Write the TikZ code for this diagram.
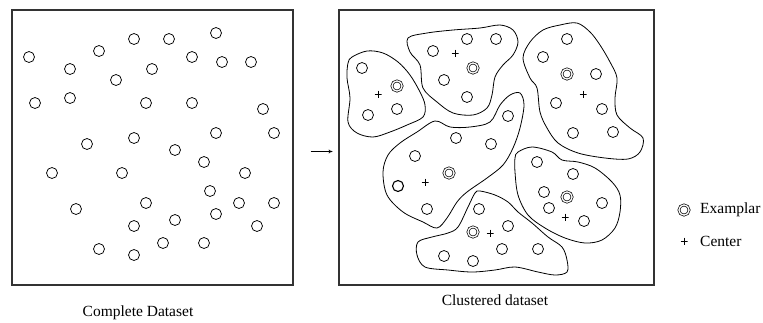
\documentclass[tikz,border=0pt]{standalone}
\usepackage{fontspec}
\setmainfont{Liberation Serif}
\usetikzlibrary{arrows.meta}
\begin{document}
\begin{tikzpicture}[x=1pt,y=-1pt,
  frame/.style={draw=black!80, line width=1.1pt, inner sep=0pt},
  pt/.style={circle, draw, line width=0.75pt, minimum size=11pt, inner sep=0pt},
  boldpt/.style={pt, line width=1.1pt},
  exemplar/.style={circle, draw, line width=0.7pt, double, double distance=1.3pt, minimum size=10.2pt, inner sep=0pt},
  center/.style={inner sep=0pt, minimum size=7pt, path picture={
    \draw[line width=0.8pt] (path picture bounding box.north) -- (path picture bounding box.south)
      (path picture bounding box.west) -- (path picture bounding box.east);}},
  blob/.style={line width=0.8pt},
  lbl/.style={font=\fontsize{15.5}{18}\selectfont, inner sep=0pt}]
\useasboundingbox (0,0) rectangle (763,322);
% frames
\node[frame, minimum width=281pt, minimum height=275pt] (left) at (152.5,147.5) {};
\node[frame, minimum width=315pt, minimum height=275pt] (right) at (496.5,147.5) {};
\draw[line width=0.7pt, -{To[length=4pt,width=4pt]}] ([xshift=17pt,yshift=-4pt]left.east) -- ([xshift=-6pt,yshift=-4pt]right.west);
% left points
\foreach \x/\y [count=\i] in {29/57,70/69,99/51,134/39,169/39,216/33,192/57,222/62,251/62,152/69,116/80,35/103,70/98,146/103,192/103,263/109,216/133,274/133,87/144,134/138,175/150,204/162,52/173,122/173,245/173,210/191,146/203,239/203,274/203,76/209,216/214,175/220,134/226,257/226,99/249,163/243,204/243,134/255}
  \node[pt] (p\i) at (\x,\y) {};
% cluster outlines
\draw[blob] plot[smooth cycle, tension=0.55] coordinates {(352,57) (367,51) (383,53) (398,62) (410,75) (420,92) (425,105) (423,117) (407,125) (390,132) (373,137) (357,133) (348,122) (350,98) (347,78) (348,63)};
\draw[blob] plot[smooth cycle, tension=0.55] coordinates {(408,38) (427,33) (453,30) (480,28) (500,25) (513,30) (518,42) (513,55) (503,65) (495,77) (492,95) (487,108) (473,115) (453,113) (437,102) (423,88) (420,65) (410,52)};
\draw[blob] plot[smooth cycle, tension=0.55] coordinates {(560,25) (577,23) (590,32) (600,45) (610,62) (617,78) (615,98) (617,115) (630,128) (643,138) (640,152) (628,159) (605,158) (578,153) (558,143) (547,128) (540,112) (537,88) (530,78) (523,58) (530,42) (543,30)};
\draw[blob] plot[smooth cycle, tension=0.55] coordinates {(400,143) (417,132) (435,121) (450,127) (470,127) (490,122) (500,105) (510,95) (520,93) (524,105) (520,128) (513,148) (503,165) (487,178) (467,192) (457,202) (447,218) (437,228) (423,222) (403,212) (387,195) (383,172) (388,155)};
\draw[blob] plot[smooth cycle, tension=0.55] coordinates {(518,152) (532,147) (552,152) (562,160) (578,162) (595,168) (612,182) (620,195) (620,212) (615,228) (602,240) (585,243) (565,238) (545,228) (528,215) (518,195) (515,172) (515,158)};
\draw[blob] plot[smooth cycle, tension=0.55] coordinates {(480,191) (495,195) (508,202) (518,212) (532,223) (548,237) (562,247) (567,260) (567,272) (555,275) (538,272) (515,267) (495,270) (472,272) (448,270) (425,267) (417,255) (418,242) (432,237) (448,233) (458,227) (468,207) (475,193)};
% cluster members
\foreach \x/\y [count=\i] in {362/68,368/115,397/109, 433/51,467/39,496/39,444/80,467/97, 567/39,543/57,596/74,556/103,602/109,573/133,613/132, 508/116,456/138,491/144,415/156,427/209, 537/162,573/174,544/192,549/208,584/221,602/203, 479/209,508/226,502/249,538/249,444/256,473/261}
  \node[pt] (q\i) at (\x,\y) {};
\node[boldpt] (qb) at (398,186) {};
% exemplars
\foreach \x/\y [count=\i] in {397/86,473/68,567/74,449/173,567/197,473/232}
  \node[exemplar] (e\i) at (\x,\y) {};
% centers
\foreach \x/\y [count=\i] in {378/94,455/53,583/94,425/182,565/217,490/233}
  \node[center] (c\i) at (\x,\y) {};
% legend
\node[exemplar] (le) at (684,210) {};
\node[lbl, anchor=west] (lt1) at (700,210) {Examplar};
\node[center] (lc) at (684,241) {};
\node[lbl, anchor=west] (lt2) at (700,241) {Center};
% captions
\node[lbl] (cap1) at (138,313) {Complete Dataset};
\node[lbl] (cap2) at (495,300) {Clustered dataset};
\end{tikzpicture}
\end{document}
